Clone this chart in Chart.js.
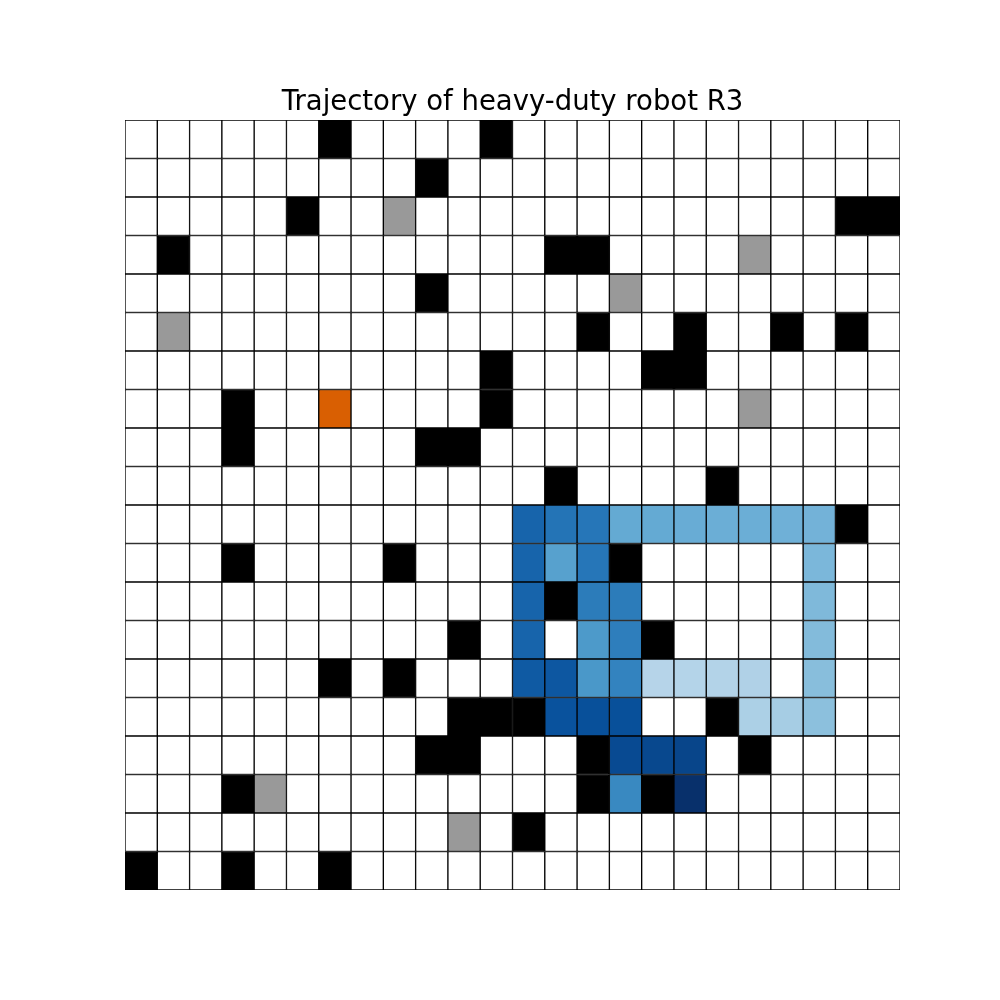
<!DOCTYPE html>
<html>
<head>
<meta charset="utf-8">
<script src="https://cdn.jsdelivr.net/npm/chart.js@4/dist/chart.umd.min.js"></script>
<style>
html,body{margin:0;padding:0;background:#fff;}
#wrap{width:1000px;height:1000px;}
</style>
</head>
<body>
<div id="wrap"><canvas id="c" width="1000" height="1000"></canvas></div>
<script>
// Map: '.' free, '#' obstacle, 'g' unknown, 'o' goal
const mapRows = [
  "......#....#............",
  ".........#..............",
  ".....#..g.............##",
  ".#...........##....g....",
  ".........#.....g........",
  ".g............#..#..#.#.",
  "...........#....##......",
  "...#..o....#.......g....",
  "...#.....##.............",
  ".............#....#.....",
  "......................#.",
  "...#....#......#........",
  ".............#..........",
  "..........#.....#.......",
  "......#.#...............",
  "..........###.....#.....",
  ".........##...#....#....",
  "...#g.........#.#.......",
  "..........g.#...........",
  "#..#..#................."
];
const columns = Array.from({length: 24}, (_, i) => String(i));
// Trajectory cells: row, column, time fraction (0 = start, 1 = end)
const trajRow = [14,14,14,14,15,15,15,14,13,12,11,10,10,10,10,10,10,10,10,10,10,11,12,13,14,11,11,12,12,13,13,14,14,14,14,15,15,15,16,16,16,17,17];
const trajCol = [16,17,18,19,19,20,21,21,21,21,21,21,20,19,18,17,16,15,14,13,12,12,12,12,12,13,14,14,15,14,15,14,15,13,12,13,14,15,15,16,17,15,17];
const trajVal = [0.30,0.305,0.31,0.32,0.33,0.35,0.42,0.43,0.44,0.45,0.46,0.48,0.49,0.50,0.50,0.51,0.52,0.52,0.73,0.74,0.80,0.80,0.80,0.80,0.84,0.56,0.73,0.71,0.71,0.59,0.70,0.60,0.68,0.85,0.84,0.87,0.88,0.88,0.90,0.91,0.92,0.66,1.0];

const colorFor = {'.': '#ffffff', '#': '#000000', 'g': '#999999', 'o': '#d95f02'};
const bluesStops = ['#f7fbff','#deebf7','#c6dbef','#9ecae1','#6baed6','#4292c6','#2171b5','#08519c','#08306b'];
function hex2rgb(h){return [parseInt(h.slice(1,3),16),parseInt(h.slice(3,5),16),parseInt(h.slice(5,7),16)];}
function blues(v){
  v = Math.max(0, Math.min(1, v));
  const p = v * (bluesStops.length - 1);
  const i = Math.min(Math.floor(p), bluesStops.length - 2);
  const t = p - i;
  const a = hex2rgb(bluesStops[i]), b = hex2rgb(bluesStops[i+1]);
  const c = a.map((x, k) => Math.round(x + (b[k] - x) * t));
  return 'rgb(' + c.join(',') + ')';
}

const nRows = mapRows.length;
const colors = mapRows.map(r => r.split('').map(ch => colorFor[ch]));
trajRow.forEach((r, i) => { colors[r][trajCol[i]] = blues(trajVal[i]); });

// stacked bars: dataset 0 is the bottom row
const datasets = [];
for (let d = 0; d < nRows; d++) {
  const r = nRows - 1 - d;
  datasets.push({
    label: 'row ' + r,
    data: columns.map(() => 1),
    backgroundColor: colors[r],
    borderColor: '#000000',
    borderWidth: 1,
    borderSkipped: false,
    categoryPercentage: 1.0,
    barPercentage: 1.0
  });
}

new Chart(document.getElementById('c'), {
  type: 'bar',
  data: { labels: columns, datasets: datasets },
  options: {
    responsive: false,
    animation: false,
    layout: { padding: { top: 86, bottom: 110, left: 125, right: 100 } },
    plugins: {
      legend: { display: false },
      tooltip: { enabled: false },
      title: {
        display: true,
        text: 'Trajectory of heavy-duty robot R3',
        color: '#000000',
        font: { family: 'DejaVu Sans', size: 27.5, weight: 'normal' },
        padding: { top: 0, bottom: 1 }
      }
    },
    scales: {
      x: { stacked: true, display: false },
      y: { stacked: true, display: false, min: 0, max: nRows }
    }
  }
});
</script>
</body>
</html>
